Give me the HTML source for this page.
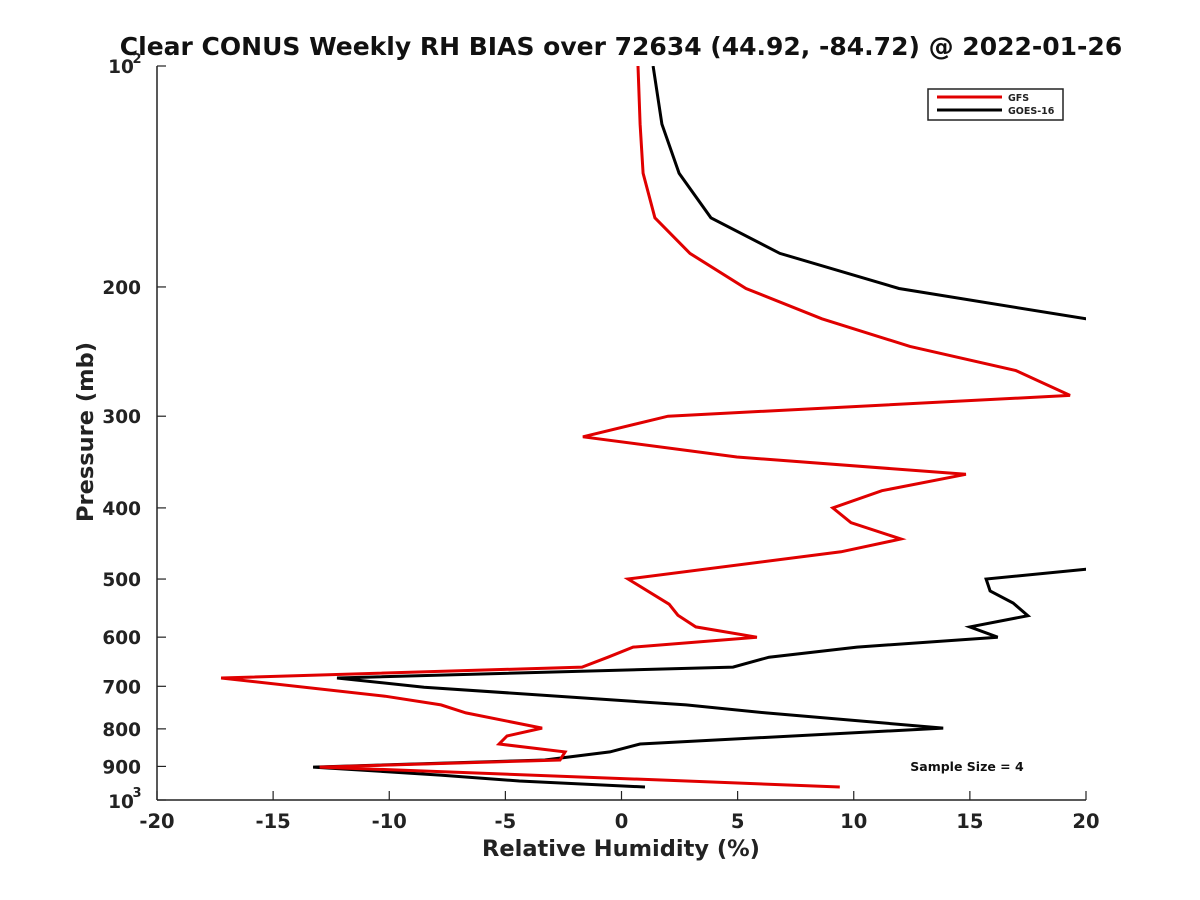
<!DOCTYPE html>
<html><head><meta charset="utf-8"><style>
body{margin:0;background:#fff;}
svg{display:block;font-family:"DejaVu Sans","Liberation Sans",sans-serif;font-weight:bold;}
</style></head><body>
<svg id="chart" width="1200" height="900">
<defs><clipPath id="plotclip"><rect x="157" y="66" width="929" height="734"/></clipPath></defs>
<rect x="0" y="0" width="1200" height="900" fill="#fff"/>
<text x="621" y="55" text-anchor="middle" font-size="25" fill="#111">Clear CONUS Weekly RH BIAS over 72634 (44.92, -84.72) @ 2022-01-26</text>
<g id="axes"></g>
<g id="series" clip-path="url(#plotclip)"></g>
<g id="legend">
<rect x="928" y="89" width="135" height="31" fill="#fff" stroke="#222" stroke-width="1.5"/>
<line x1="937" y1="97" x2="1002" y2="97" stroke="#e00000" stroke-width="3"/>
<text x="1008" y="101" font-size="9.5" fill="#222">GFS</text>
<line x1="937" y1="110" x2="1002" y2="110" stroke="#000" stroke-width="3"/>
<text x="1008" y="114" font-size="9.5" fill="#222">GOES-16</text>
</g>
<text x="967" y="771" text-anchor="middle" font-size="12.5" fill="#111">Sample Size = 4</text>
<text x="621" y="856" text-anchor="middle" font-size="22.5" fill="#222">Relative Humidity (%)</text>
<text transform="translate(93,432) rotate(-90)" text-anchor="middle" font-size="22.5" fill="#222">Pressure (mb)</text>
</svg>
<script>
const xTicks = [-20,-15,-10,-5,0,5,10,15,20];
const yTicks = [200,300,400,500,600,700,800,900];
const gfsPressure = [100,120,140,161,180,201,221,241,260,281,300,320,341,360,379,400,419,441,459,500,541,560,581,600,619,639,659,682,722,742,761,798,818,839,860,882,902,939,960];
const gfsBias = [0.71,0.8,0.93,1.44,2.95,5.36,8.63,12.42,16.98,19.31,2.0,-1.66,4.97,14.83,11.21,9.1,9.88,12.03,9.45,0.28,2.05,2.43,3.2,5.83,0.5,-0.58,-1.7,-17.24,-10.18,-7.77,-6.7,-3.42,-4.93,-5.27,-2.43,-2.65,-13.0,1.57,9.4];
const goesPressure = [100,120,140,161,180,201,221,300,460,485,500,519,539,561,581,600,619,639,659,682,702,742,761,798,839,860,882,902,925,942,960];
const goesBias = [1.36,1.74,2.48,3.85,6.82,11.95,20.0,30,30,20.0,15.7,15.87,16.86,17.5,15.0,16.2,10.14,6.35,4.8,-12.25,-8.5,2.78,6.22,13.85,0.8,-0.5,-3.3,-13.28,-7.8,-4.4,1.01];

const X0=157,X1=1086,Y0=66,Y1=800;
function xs(v){return X0+(v+20)/40*(X1-X0);}
function ys(p){return Y0+(Math.log10(p)-2)*(Y1-Y0);}
const NS="http://www.w3.org/2000/svg";
const axes=document.getElementById('axes');
function mk(tag,attrs,parent){const e=document.createElementNS(NS,tag);for(const k in attrs)e.setAttribute(k,attrs[k]);parent.appendChild(e);return e;}

const lx=mk('line',{x1:X0,y1:Y1,x2:X1,y2:Y1,stroke:'#222','stroke-width':1.5},axes);


const ly=mk('line',{x1:X0,y1:Y0,x2:X0,y2:Y1,stroke:'#222','stroke-width':1.5},axes);



xTicks.forEach(v=>{
  const x=xs(v);
  mk('line',{x1:x,y1:Y1,x2:x,y2:Y1-9,stroke:'#222','stroke-width':1.2},axes);
  const t=mk('text',{x:x,y:Y1+28,'text-anchor':'middle','font-size':19.5,fill:'#222'},axes);
  t.textContent=String(v);
  
  
});
yTicks.forEach(p=>{
  const y=ys(p);
  mk('line',{x1:X0,y1:y,x2:X0+9,y2:y,stroke:'#222','stroke-width':1.2},axes);
  const t=mk('text',{x:X0-16,y:y+7,'text-anchor':'end','font-size':18.5,fill:'#222'},axes);
  t.textContent=String(p);
  
  
});
[100,1000].forEach((p,i)=>{
  const y=ys(p);
  mk('line',{x1:X0,y1:y,x2:X0+9,y2:y,stroke:'#222','stroke-width':1.2},axes);
  const t=mk('text',{x:X0-36,y:y+(i?8:7),'text-anchor':'middle','font-size':18.5,fill:'#222'},axes);
  t.textContent='10';
  
  
  const s=mk('text',{x:X0-20,y:y-3,'text-anchor':'middle','font-size':13,fill:'#222'},axes);
  s.textContent=i?'3':'2';
  
  
});

const series=document.getElementById('series');
function line(ps,vs,color,name){
  const pts=ps.map((p,i)=>xs(vs[i]).toFixed(1)+','+ys(p).toFixed(1)).join(' ');
  const pl=mk('polyline',{points:pts,fill:'none',stroke:color,'stroke-width':3,'stroke-linejoin':'miter'},series);
  
  
}
line(goesPressure,goesBias,'#000','goes16-line');
line(gfsPressure,gfsBias,'#e00000','gfs-line');
</script>
</body></html>
